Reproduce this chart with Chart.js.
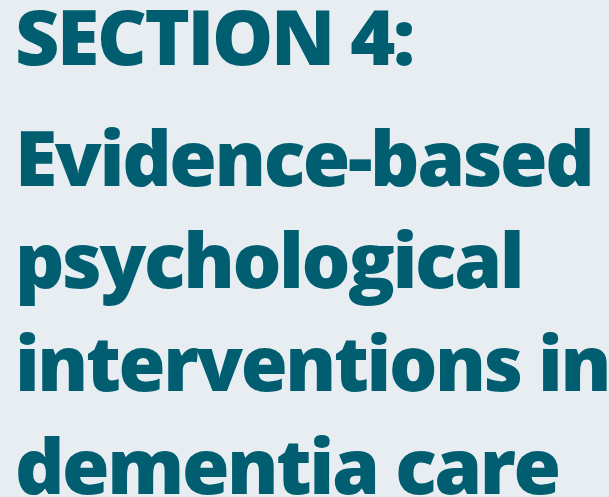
<!DOCTYPE html>
<html>
<head>
<meta charset="utf-8">
<script src="https://cdn.jsdelivr.net/npm/chart.js@4"></script>
<style>
  html, body { margin: 0; padding: 0; background: #e7edf0; }
  canvas { display: block; }
</style>
</head>
<body>
<canvas id="c" width="609" height="497"></canvas>
<script>
const headingLine = "SECTION 4:";
const titleLines = ["Evidence-based", "psychological", "interventions in", "dementia care"];
const categories = [];
const values = [];

const textColor = "#015e71";

const tightText = {
  id: "tightText",
  beforeDraw(chart) {
    chart.ctx.letterSpacing = "-2.4px";
  }
};

new Chart(document.getElementById("c"), {
  type: "bar",
  data: { labels: categories, datasets: [{ data: values }] },
  options: {
    responsive: false,
    animation: false,
    layout: { padding: { left: 15, top: 0, right: 0, bottom: 0 } },
    scales: { x: { display: false }, y: { display: false } },
    plugins: {
      legend: { display: false },
      tooltip: { enabled: false },
      title: {
        display: true,
        text: headingLine,
        align: "start",
        color: textColor,
        font: { family: "'Open Sans'", size: 77, weight: "800", lineHeight: 1.12 },
        padding: { top: 0, bottom: 26 }
      },
      subtitle: {
        display: true,
        text: titleLines,
        align: "start",
        color: textColor,
        font: { family: "'Open Sans'", size: 77, weight: "800", lineHeight: 1.335 },
        padding: { top: 0, bottom: 0 }
      }
    }
  },
  plugins: [tightText]
});
</script>
</body>
</html>
